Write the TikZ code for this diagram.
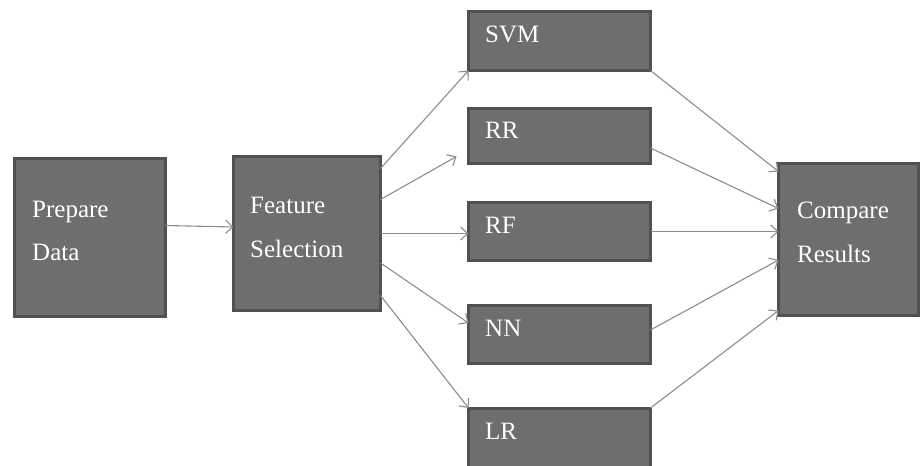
\documentclass[tikz,border=0pt]{standalone}
\usepackage{fontspec}
\setmainfont{Liberation Serif}
\usetikzlibrary{arrows.meta,calc}
\definecolor{boxfill}{HTML}{6E6E6E}
\definecolor{boxline}{HTML}{515151}
\definecolor{arrowc}{HTML}{8C8C8C}
\begin{document}
\begin{tikzpicture}[x=1pt,y=-1pt,
  box/.style={draw=boxline,fill=boxfill,line width=3pt,inner sep=0pt,outer sep=0pt,rectangle},
  lbl/.style={anchor=base west,text=white,inner sep=0pt,font=\fontsize{25}{29}\selectfont},
  conn/.style={draw=arrowc,line width=1.1pt,-{Straight Barb[length=7pt,width=13pt,line width=1.1pt]}}]
\useasboundingbox (0,0) rectangle (922,466);
\clip (0,0) rectangle (922,466);
% boxes
\node[box,minimum width=151pt,minimum height=158pt] (PD) at (90,237.5) {};
\node[box,minimum width=147pt,minimum height=154pt] (FS) at (307,233.5) {};
\node[box,minimum width=182pt,minimum height=59pt] (SVM) at (559.5,41) {};
\node[box,minimum width=182pt,minimum height=55pt] (RR) at (559.5,136) {};
\node[box,minimum width=182pt,minimum height=58pt] (RF) at (559.5,231.5) {};
\node[box,minimum width=182pt,minimum height=58pt] (NN) at (559.5,334.5) {};
\node[box,minimum width=182pt,minimum height=62pt] (LR) at (559.5,439) {};
\node[box,minimum width=140pt,minimum height=152pt] (CR) at (848.5,239.5) {};
% labels
\node[lbl] (tPD1) at (32,217) {Prepare};
\node[lbl] (tPD2) at (32,260) {Data};
\node[lbl] (tFS1) at (250,213) {Feature};
\node[lbl] (tFS2) at (250,257) {Selection};
\node[lbl] (tSVM) at (485,42) {SVM};
\node[lbl] (tRR) at (485,138) {RR};
\node[lbl] (tRF) at (485,233) {RF};
\node[lbl] (tNN) at (485,336) {NN};
\node[lbl] (tLR) at (485,439) {LR};
\node[lbl] (tCR1) at (797,218) {Compare};
\node[lbl] (tCR2) at (797,262) {Results};
% connectors
\draw[conn] ([yshift=12pt]PD.east) -- ([yshift=6.5pt]FS.west);
\draw[conn] ([yshift=-12pt]FS.north east) -- (SVM.south west);
\draw[conn] ([yshift=-43pt]FS.north east) -- ([xshift=-12pt,yshift=7pt]RR.south west);
\draw[conn] (FS.east) -- (FS.east -| RF.west);
\draw[conn] ([yshift=-29.5pt]FS.east) -- ([yshift=11.5pt]NN.west);
\draw[conn] ([yshift=15pt]FS.south east) -- (LR.north west);
\draw[conn] (SVM.south east) -- ([yshift=-8pt]CR.north west);
\draw[conn] ([yshift=-12pt]RR.east) -- ([yshift=-45pt]CR.north west);
\draw[conn] (RF.east) -- (RF.east -| CR.west);
\draw[conn] ([yshift=4.5pt]NN.east) -- ([yshift=-20.5pt]CR.west);
\draw[conn] (LR.north east) -- ([yshift=5pt]CR.south west);
\end{tikzpicture}
\end{document}
